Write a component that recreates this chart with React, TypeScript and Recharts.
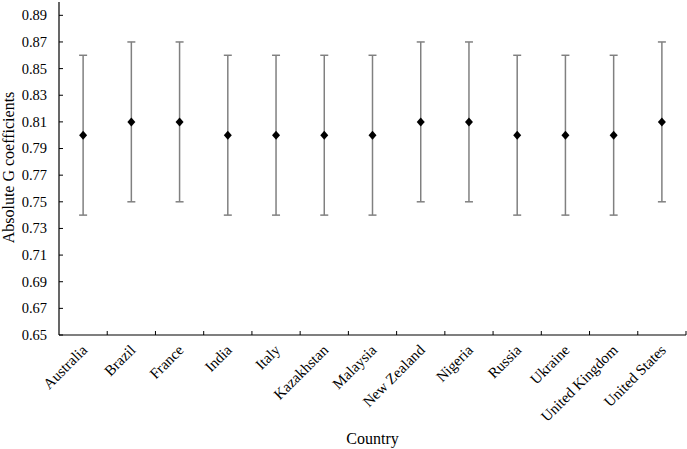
import { ComposedChart, Scatter, ErrorBar, XAxis, YAxis } from 'recharts';

const countries = [
  'Australia', 'Brazil', 'France', 'India', 'Italy', 'Kazakhstan', 'Malaysia',
  'New Zealand', 'Nigeria', 'Russia', 'Ukraine', 'United Kingdom', 'United States',
];
const gValues = [0.80, 0.81, 0.81, 0.80, 0.80, 0.80, 0.80, 0.81, 0.81, 0.80, 0.80, 0.80, 0.81];
const gErrors = [0.06, 0.06, 0.06, 0.06, 0.06, 0.06, 0.06, 0.06, 0.06, 0.06, 0.06, 0.06, 0.06];
const yTicks = [0.65, 0.67, 0.69, 0.71, 0.73, 0.75, 0.77, 0.79, 0.81, 0.83, 0.85, 0.87, 0.89];

const data = countries.map((country, i) => ({ country, value: gValues[i], err: gErrors[i] }));

const FONT = '"Liberation Serif", "Times New Roman", serif';

function YTick({ x, y, payload }: any) {
  return (
    <g>
      <line x1={x + 12} x2={x + 16} y1={y} y2={y} stroke="#000" />
      <text x={x} y={y} dy="0.34em" textAnchor="end" fontFamily={FONT} fontSize={14.5} fill="#000">
        {Number(payload.value).toFixed(2)}
      </text>
    </g>
  );
}

function XTick({ x, y, payload }: any) {
  const half = payload.offset || 24;
  const tx = x + 5;
  const ty = y + 16;
  return (
    <g>
      <line x1={x + half} x2={x + half} y1={y - 4} y2={y} stroke="#000" />
      <text
        x={tx}
        y={ty}
        textAnchor="end"
        transform={`rotate(-45, ${tx}, ${ty})`}
        fontFamily={FONT}
        fontSize={15}
        fill="#000"
      >
        {payload.value}
      </text>
    </g>
  );
}

function Diamond({ cx, cy }: any) {
  if (cx == null || cy == null) return null;
  return <polygon points={`${cx},${cy - 4.5} ${cx + 4},${cy} ${cx},${cy + 4.5} ${cx - 4},${cy}`} fill="#000" />;
}

export default function App() {
  return (
    <div style={{ position: 'absolute', left: 0, top: 0, background: '#fff' }}>
      <ComposedChart width={687} height={449} data={data} margin={{ top: 2, right: 1, left: 0, bottom: 0 }}>
        <XAxis
          dataKey="country"
          type="category"
          scale="band"
          interval={0}
          height={114}
          tickLine={false}
          tickSize={0}
          tickMargin={0}
          tick={<XTick />}
          axisLine={{ stroke: '#000', strokeWidth: 1.2 }}
          label={{ value: 'Country', position: 'insideBottom', offset: 5, fontFamily: FONT, fontSize: 16, fill: '#000' }}
        />
        <YAxis
          type="number"
          domain={[0.65, 0.9]}
          ticks={yTicks}
          interval={0}
          width={59}
          tickLine={false}
          tickSize={0}
          tickMargin={12}
          tick={<YTick />}
          axisLine={{ stroke: '#000', strokeWidth: 1.2 }}
          label={{
            value: 'Absolute G coefficients',
            content: ({ viewBox }: any) => {
              const cx = viewBox.x + 8;
              const cy = viewBox.y + viewBox.height / 2 - 1;
              return (
                <text
                  x={cx}
                  y={cy}
                  dy="0.35em"
                  textAnchor="middle"
                  transform={`rotate(-90, ${cx}, ${cy})`}
                  fontFamily={FONT}
                  fontSize={16}
                  fill="#000"
                >
                  Absolute G coefficients
                </text>
              );
            },
          }}
        />
        <Scatter dataKey="value" shape={<Diamond />} isAnimationActive={false}>
          <ErrorBar dataKey="err" direction="y" width={4} stroke="#808080" strokeWidth={1.5} isAnimationActive={false} />
        </Scatter>
      </ComposedChart>
    </div>
  );
}
